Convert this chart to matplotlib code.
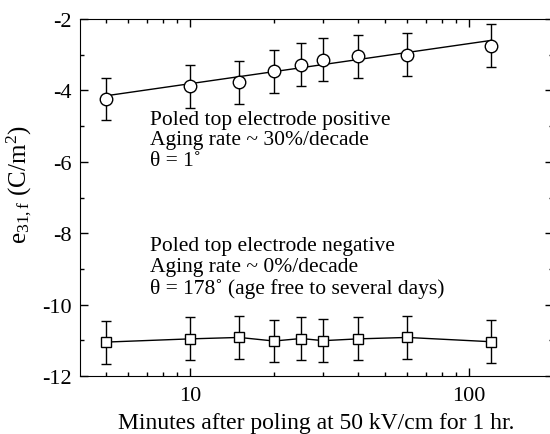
import matplotlib
matplotlib.use('Agg')
import matplotlib.pyplot as plt
from matplotlib.ticker import FixedLocator, LogLocator, NullFormatter, FixedFormatter

plt.rcParams['font.family'] = ['Liberation Serif', 'DejaVu Serif']
plt.rcParams['mathtext.fontset'] = 'custom'
plt.rcParams['mathtext.rm'] = 'Liberation Serif'
plt.rcParams['mathtext.it'] = 'Liberation Serif'
plt.rcParams['axes.unicode_minus'] = False

minutes = [5, 10, 15, 20, 25, 30, 40, 60, 120]
pos_e31 = [-4.24, -3.89, -3.77, -3.46, -3.28, -3.14, -3.05, -3.0, -2.75]
pos_err = [0.6, 0.6, 0.6, 0.6, 0.6, 0.6, 0.6, 0.6, 0.6]
neg_e31 = [-11.05, -10.96, -10.92, -11.02, -10.95, -11.01, -10.96, -10.92, -11.04]
neg_err = [0.6, 0.6, 0.6, 0.6, 0.6, 0.6, 0.6, 0.6, 0.6]
fit_x = [5, 120]
fit_y = [-4.15, -2.6]

fig = plt.figure(figsize=(5.5, 4.35), dpi=100)
ax = fig.add_axes([80 / 550, 58 / 435, 473 / 550, 357 / 435])

# positive poling: log fit line + open circles
ax.plot(fit_x, fit_y, color='black', lw=1)
ax.errorbar(minutes, pos_e31, yerr=pos_err, fmt='o', mfc='white', mec='black',
            ms=9, ecolor='black', elinewidth=1, capsize=3.5, mew=1)

# negative poling: connected open squares
ax.errorbar(minutes, neg_e31, yerr=neg_err, fmt='s-', color='black', mfc='white',
            mec='black', ms=7.5, lw=1, elinewidth=1, capsize=3.5, mew=1)

ax.set_xscale('log')
ax.set_xlim(4.03, 200)
ax.set_ylim(-12, -2)
ax.xaxis.set_major_locator(FixedLocator([10, 100]))
ax.xaxis.set_major_formatter(FixedFormatter(['10', '100']))
ax.xaxis.set_minor_locator(LogLocator(base=10, subs=range(2, 10)))
ax.xaxis.set_minor_formatter(NullFormatter())
ax.set_yticks([-12, -10, -8, -6, -4, -2])
ax.set_yticks([-11, -9, -7, -5, -3], minor=True)

ax.tick_params(which='both', direction='in', top=True, right=True, labelsize=16, width=1)
ax.tick_params(which='major', length=6)
ax.tick_params(which='minor', length=3)
ax.tick_params(axis='x', pad=7)
ax.tick_params(axis='y', pad=6)

ax.set_xlabel('Minutes after poling at 50 kV/cm for 1 hr.', fontsize=17, labelpad=5)
ax.set_ylabel('e$_{31,f}$ (C/m$^2$)', fontsize=18)
ax.yaxis.set_label_coords(-46 / 473, 0.54)

fig.text(150 / 550, 1 - 141 / 435,
         'Poled top electrode positive\nAging rate ~ 30%/decade\n\u03b8 = 1\u02da',
         fontsize=15.5, va='center', ha='left', linespacing=1.12)
fig.text(150 / 550, 1 - 268 / 435,
         'Poled top electrode negative\nAging rate ~ 0%/decade\n\u03b8 = 178\u02da (age free to several days)',
         fontsize=15.5, va='center', ha='left', linespacing=1.12)

fig.savefig('out.png', dpi=100)
